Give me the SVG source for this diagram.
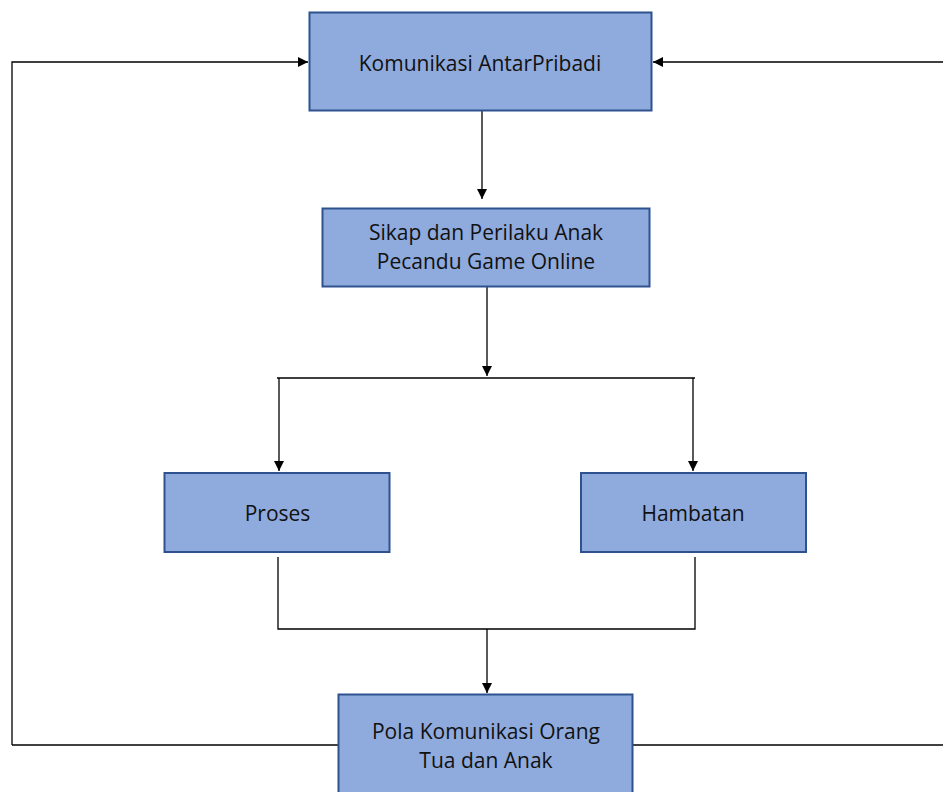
<svg xmlns="http://www.w3.org/2000/svg" width="943" height="792" viewBox="0 0 943 792">
<style>
.box{fill:#8FAADC;stroke:#2F528F;stroke-width:2}
.t{font-family:"Open Sans","Liberation Sans",sans-serif;font-size:21px;fill:#111;text-anchor:middle}
.c{fill:none;stroke:#000;stroke-width:1.3}
</style>
<defs>
<marker id="ah" viewBox="0 0 10 10" refX="10" refY="5" markerWidth="10" markerHeight="10" markerUnits="userSpaceOnUse" orient="auto">
<path d="M0,0 L10,5 L0,10 z" fill="#000"/>
</marker>
</defs>
<rect width="943" height="792" fill="#fff"/>
<g id="connectors">
<path class="c" d="M12,745 L12,62 L308,62" marker-end="url(#ah)"/>
<path class="c" d="M943,62 L653,62" marker-end="url(#ah)"/>
<path class="c" d="M482,111 L482,199" marker-end="url(#ah)"/>
<path class="c" d="M487,287 L487,376" marker-end="url(#ah)"/>
<path class="c" d="M277,378 L695,378"/>
<path class="c" d="M279,378 L279,471" marker-end="url(#ah)"/>
<path class="c" d="M693,378 L693,471" marker-end="url(#ah)"/>
<path class="c" d="M278,557 L278,629 L695,629 L695,557"/>
<path class="c" d="M487,629 L487,693" marker-end="url(#ah)"/>
<path class="c" d="M12,745 L338,745"/>
<path class="c" d="M633,745 L943,745"/>
</g>
<g id="n1"><rect class="box" x="309.5" y="12.5" width="342" height="98"/><text class="t" x="480" y="71">Komunikasi AntarPribadi</text></g>
<g id="n2"><rect class="box" x="322.5" y="208.5" width="327" height="78"/><text class="t" x="486" y="240">Sikap dan Perilaku Anak</text><text class="t" x="486" y="269">Pecandu Game Online</text></g>
<g id="n3"><rect class="box" x="164.5" y="473" width="225" height="79"/><text class="t" x="277.5" y="521">Proses</text></g>
<g id="n4"><rect class="box" x="581" y="473" width="225" height="79"/><text class="t" x="693" y="521">Hambatan</text></g>
<g id="n5"><rect class="box" x="338.5" y="694.5" width="294" height="110"/><text class="t" x="486" y="739">Pola Komunikasi Orang</text><text class="t" x="486" y="768">Tua dan Anak</text></g>
</svg>
